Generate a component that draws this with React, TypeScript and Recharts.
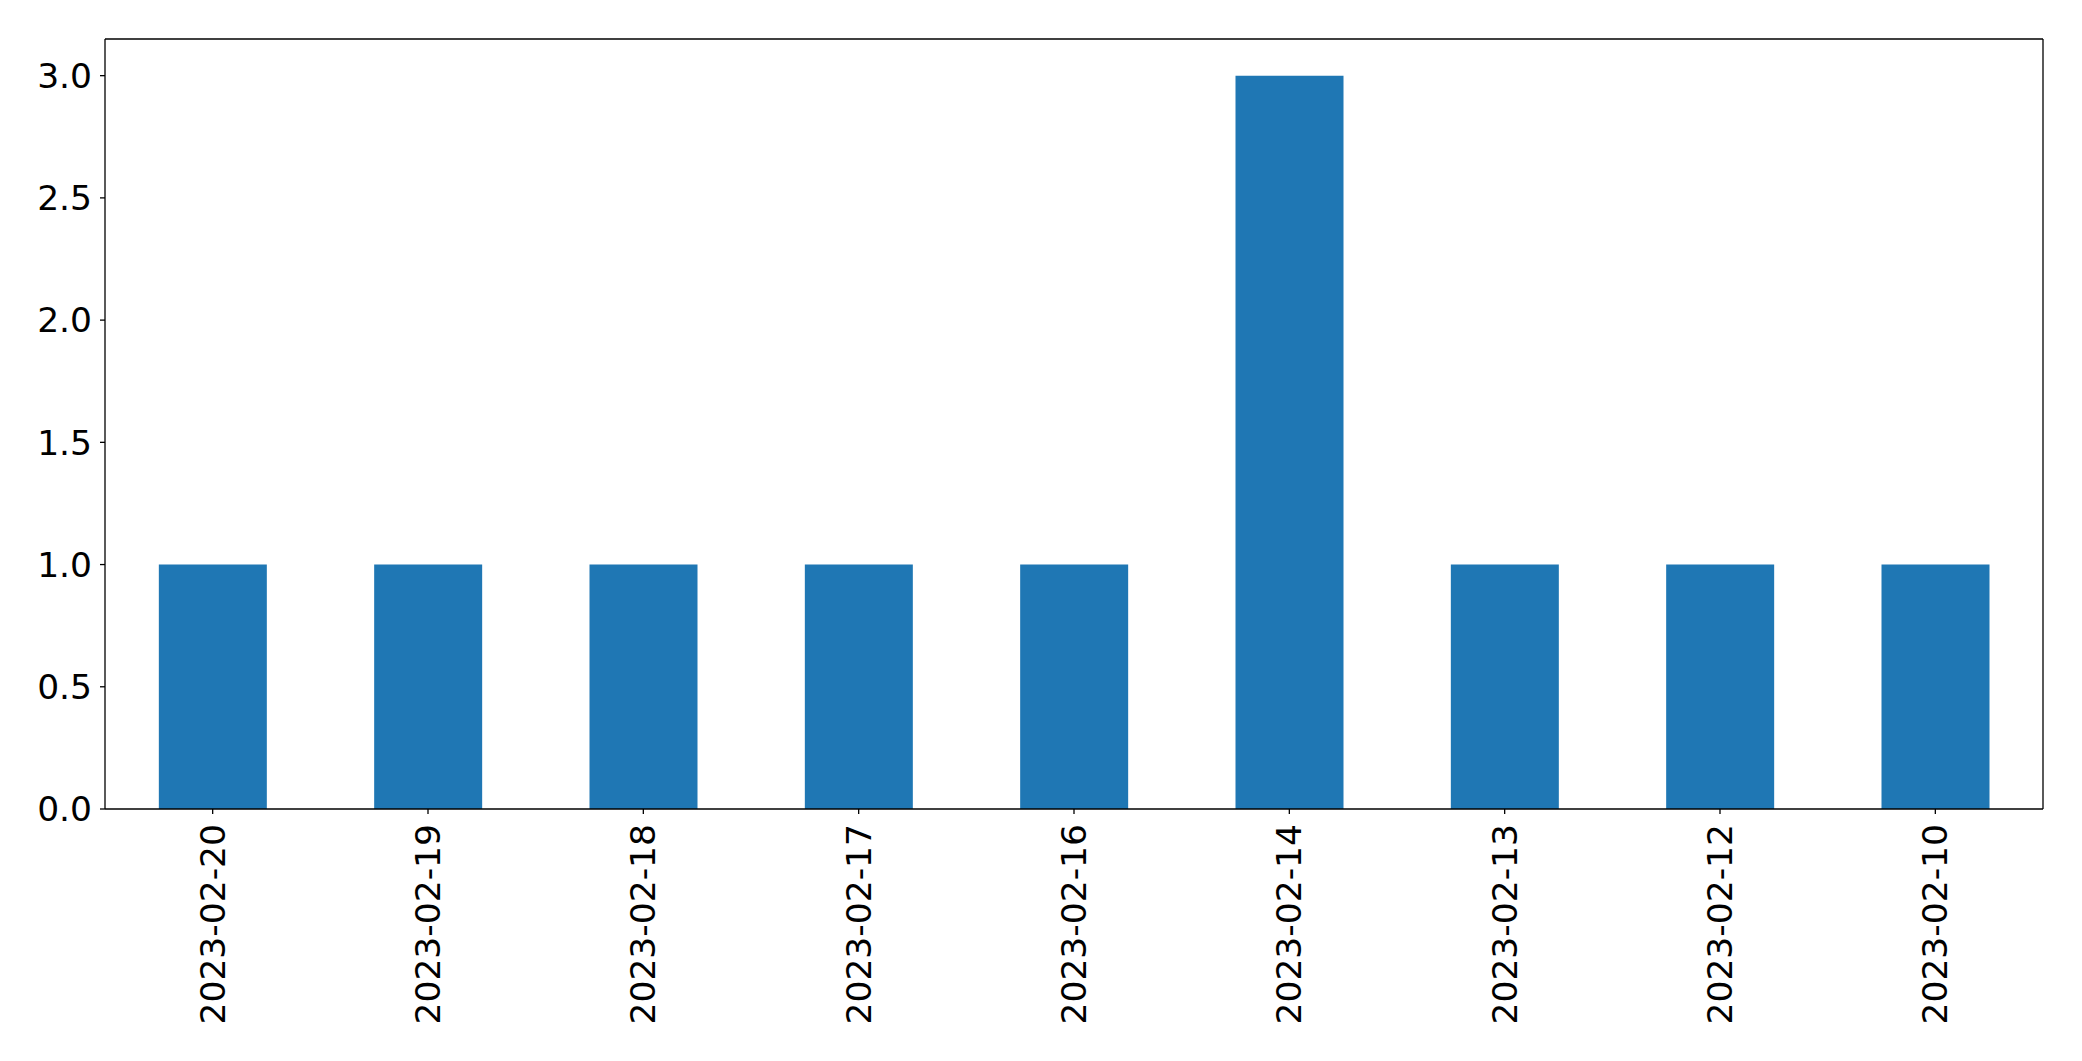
import { BarChart, Bar, XAxis, YAxis } from "recharts";

const dates = [
  "2023-02-20",
  "2023-02-19",
  "2023-02-18",
  "2023-02-17",
  "2023-02-16",
  "2023-02-14",
  "2023-02-13",
  "2023-02-12",
  "2023-02-10",
];

const counts = [1, 1, 1, 1, 1, 3, 1, 1, 1];

const yTicks = [0, 0.5, 1.0, 1.5, 2.0, 2.5, 3.0];

const data = dates.map((date, i) => ({ date, count: counts[i] }));

const FONT = "'DejaVu Sans', sans-serif";

function DateTick({ x, y, payload }: any) {
  return (
    <text
      transform={`translate(${x}, ${y + 8}) rotate(-90)`}
      textAnchor="end"
      dy="0.35em"
      fontSize={34.5}
      fontFamily={FONT}
      fill="#000"
    >
      {payload.value}
    </text>
  );
}

export default function App() {
  return (
    <div style={{ position: "absolute", left: 0, top: 0, background: "#fff" }}>
      <BarChart
        width={2082}
        height={1061}
        data={data}
        barCategoryGap="25%"
        margin={{ top: 38, right: 38, bottom: 0, left: 0 }}
      >
        <XAxis
          xAxisId="main"
          dataKey="date"
          height={252}
          interval={0}
          tick={<DateTick />}
          tickSize={5}
          axisLine={{ stroke: "#000", strokeWidth: 1.3 }}
          tickLine={{ stroke: "#000", strokeWidth: 1.3 }}
        />
        <XAxis
          xAxisId="top"
          orientation="top"
          dataKey="date"
          height={1}
          tick={false}
          tickLine={false}
          axisLine={{ stroke: "#000", strokeWidth: 1.3 }}
        />
        <YAxis
          yAxisId="main"
          width={105}
          domain={[0, 3.15]}
          ticks={yTicks}
          tickFormatter={(v: number) => v.toFixed(1)}
          tickSize={5}
          tickMargin={8}
          tick={{ fontSize: 34.5, fontFamily: FONT, fill: "#000" }}
          axisLine={{ stroke: "#000", strokeWidth: 1.3 }}
          tickLine={{ stroke: "#000", strokeWidth: 1.3 }}
        />
        <YAxis
          yAxisId="right"
          orientation="right"
          width={1}
          domain={[0, 3.15]}
          tick={false}
          tickLine={false}
          axisLine={{ stroke: "#000", strokeWidth: 1.3 }}
        />
        <Bar
          xAxisId="main"
          yAxisId="main"
          dataKey="count"
          fill="#1f77b4"
          isAnimationActive={false}
        />
      </BarChart>
    </div>
  );
}
